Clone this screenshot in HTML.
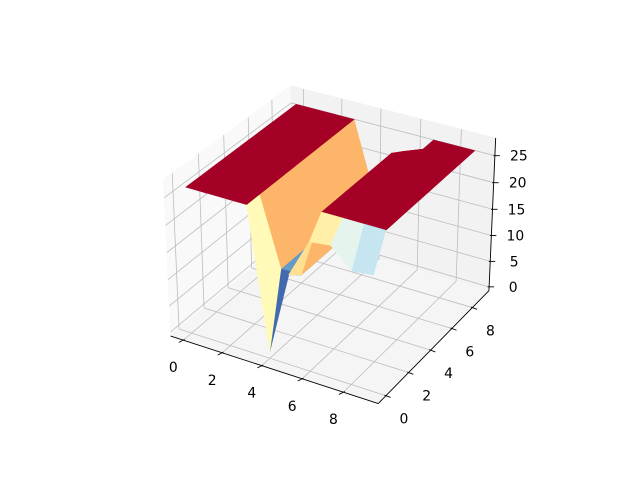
<!DOCTYPE html>
<html>
<head>
<meta charset="utf-8">
<style>
  html, body { margin: 0; padding: 0; background: #ffffff; }
  #chart { position: absolute; left: 0; top: 0; width: 640px; height: 480px; }
  text { font-family: "DejaVu Sans", "Liberation Sans", sans-serif; font-size: 13.9px; fill: #000; }
</style>
</head>
<body>
<svg id="chart" width="640" height="480" viewBox="0 0 640 480" xmlns="http://www.w3.org/2000/svg">
  <rect x="0" y="0" width="640" height="480" fill="#ffffff"/>
  <g id="panes"></g>
  <g id="grid"></g>
  <g id="axes"></g>
  <g id="surface"></g>
  <g id="labels"></g>
</svg>
<script>
// ---- data ----
const xVals = [0, 1, 2, 3, 4, 5, 6, 7, 8, 9];
const yVals = [0, 1, 2, 3, 4, 5, 6, 7, 8, 9];
// Z rows indexed by y, columns by x
const zRow0 = [26.4, 26.4, 26.4, 26.4, 0.5, 16, 23, 23.5, 20, 20.5];
const zRow1 = [26.4, 26.4, 26.4, 26.4, 14, 14, 26.4, 26.4, 26.4, 26.4];
const zRow2 = [26.4, 26.4, 26.4, 26.4, 14, 14, 26.4, 26.4, 26.4, 26.4];
const zRow3 = [26.4, 26.4, 26.4, 26.4, 14, 14, 26.4, 26.4, 26.4, 26.4];
const zRow4 = [26.4, 26.4, 26.4, 26.4, 14, 14, 26.4, 26.4, 26.4, 26.4];
const zRow5 = [26.4, 26.4, 26.4, 26.4, 14, 14, 26.4, 26.4, 26.4, 26.4];
const zRow6 = [26.4, 26.4, 26.4, 26.4, 14, 14, 26.4, 26.4, 26.4, 26.4];
const zRow7 = [26.4, 26.4, 26.4, 26.4, 14, 14, 26.4, 26.4, 26.4, 26.4];
const zRow8 = [26.4, 26.4, 26.4, 26.4, 14, 14, 25, 26.4, 26.4, 26.4];
const zRow9 = [26.4, 26.4, 26.4, 26.4, 14, 15, 22, 26.4, 26.4, 26.4];
const zRows = [zRow0, zRow1, zRow2, zRow3, zRow4, zRow5, zRow6, zRow7, zRow8, zRow9];
// colour values for the front row (facecolor data); other rows use Z
const cRow0 = [26.4, 26.4, 26.4, 26.4, 6, 18, 18.4, 3.2, 12, 0];
const xTicks = [0, 2, 4, 6, 8];
const yTicks = [0, 2, 4, 6, 8];
const zTicks = [0, 5, 10, 15, 20, 25];
const xLim = [-0.66, 9.66];
const yLim = [-0.66, 9.66];
const zLim = [-0.76, 28.25];
const colorMin = 12;
const colorMax = 24;

// ---- projection (matplotlib-like, elev 30, azim -60) ----
const NS = 'http://www.w3.org/2000/svg';
const k = 1.8294640721620434 / Math.sqrt(41);
const A = [4 * k, 4 * k, 3 * k];
const U = [0.8660254, 0.5, 0];
const V = [-0.25, 0.4330127, 0.8660254];
const W = [0.4330127, -0.75, 0.5];
const SC = 2082, CX = 332.6, CY = 237.3;
function proj(x, y, z) {
  const d = [
    (x - xLim[0]) / (xLim[1] - xLim[0]) * A[0] - A[0] / 2,
    (y - yLim[0]) / (yLim[1] - yLim[0]) * A[1] - A[1] / 2,
    (z - zLim[0]) / (zLim[1] - zLim[0]) * A[2] - A[2] / 2
  ];
  const ud = U[0]*d[0] + U[1]*d[1] + U[2]*d[2];
  const vd = V[0]*d[0] + V[1]*d[1] + V[2]*d[2];
  const wd = W[0]*d[0] + W[1]*d[1] + W[2]*d[2];
  const den = 10 - wd;
  return [CX + SC * ud / den, CY - SC * vd / den, wd];
}
function pts(list) { return list.map(p => p[0].toFixed(2) + ',' + p[1].toFixed(2)).join(' '); }

// colormap RdYlBu_r
const cmapStops = ['#313695','#4575b4','#74add1','#abd9e9','#e0f3f8','#ffffbf','#fee090','#fdae61','#f46d43','#d73027','#a50026'];
function hex2rgb(h) { return [parseInt(h.substr(1,2),16), parseInt(h.substr(3,2),16), parseInt(h.substr(5,2),16)]; }
function cmap(t) {
  t = Math.max(0, Math.min(1, t));
  const f = t * 10, i = Math.min(9, Math.floor(f)), r = f - i;
  const a = hex2rgb(cmapStops[i]), b = hex2rgb(cmapStops[i + 1]);
  return 'rgb(' + [0,1,2].map(j => Math.round(a[j] + (b[j] - a[j]) * r)).join(',') + ')';
}

const panes = document.getElementById('panes');
const grid = document.getElementById('grid');
const axes = document.getElementById('axes');
const surf = document.getElementById('surface');
const labels = document.getElementById('labels');
const [x0, x1] = xLim, [y0, y1] = yLim, [z0, z1] = zLim;

function poly(parent, corners, fill, name) {
  const p = document.createElementNS(NS, 'polygon');
  p.setAttribute('points', pts(corners));
  p.setAttribute('fill', fill);
  p.setAttribute('stroke', fill);
  p.setAttribute('stroke-width', '0.6');
  
  
  parent.appendChild(p);
}
function line(parent, a, b, color, w, name) {
  const l = document.createElementNS(NS, 'line');
  l.setAttribute('x1', a[0].toFixed(2)); l.setAttribute('y1', a[1].toFixed(2));
  l.setAttribute('x2', b[0].toFixed(2)); l.setAttribute('y2', b[1].toFixed(2));
  l.setAttribute('stroke', color); l.setAttribute('stroke-width', w);
  
  
  parent.appendChild(l);
}
function label(txt, p, dx, dy, name) {
  const t = document.createElementNS(NS, 'text');
  t.setAttribute('x', (p[0] + dx).toFixed(2));
  t.setAttribute('y', (p[1] + dy).toFixed(2));
  t.setAttribute('text-anchor', 'middle');
  t.setAttribute('dominant-baseline', 'central');
  t.textContent = txt;
  
  
  labels.appendChild(t);
}

// panes
poly(panes, [proj(x0,y0,z0), proj(x0,y1,z0), proj(x0,y1,z1), proj(x0,y0,z1)], '#f9f9f9', 'left-pane');
poly(panes, [proj(x0,y1,z0), proj(x1,y1,z0), proj(x1,y1,z1), proj(x0,y1,z1)], '#f2f2f2', 'back-pane');
poly(panes, [proj(x0,y0,z0), proj(x1,y0,z0), proj(x1,y1,z0), proj(x0,y1,z0)], '#f5f5f5', 'floor-pane');

// grid lines
const GC = '#bdbdbd';
xTicks.forEach(x => {
  line(grid, proj(x,y0,z0), proj(x,y1,z0), GC, 0.8, 'x-gridline-floor');
  line(grid, proj(x,y1,z0), proj(x,y1,z1), GC, 0.8, 'x-gridline-back');
});
yTicks.forEach(y => {
  line(grid, proj(x0,y,z0), proj(x1,y,z0), GC, 0.8, 'y-gridline-floor');
  line(grid, proj(x0,y,z0), proj(x0,y,z1), GC, 0.8, 'y-gridline-left');
});
zTicks.forEach(z => {
  line(grid, proj(x0,y0,z), proj(x0,y1,z), GC, 0.8, 'z-gridline-left');
  line(grid, proj(x0,y1,z), proj(x1,y1,z), GC, 0.8, 'z-gridline-back');
});

// axis lines
line(axes, proj(x0,y0,z0), proj(x1,y0,z0), '#000', 0.9, 'x-axis-line');
line(axes, proj(x1,y0,z0), proj(x1,y1,z0), '#000', 0.9, 'y-axis-line');
line(axes, proj(x1,y1,z0), proj(x1,y1,z1), '#000', 0.9, 'z-axis-line');

// ticks + labels
function tick(p, dx, dy, name) {
  const n = Math.hypot(dx, dy);
  const a = [p[0] - dx / n * 1.5, p[1] - dy / n * 1.5];
  const b = [p[0] + dx / n * 5, p[1] + dy / n * 5];
  line(axes, a, b, '#000', 0.9, name);
}
xTicks.forEach(x => {
  const p = proj(x, y0, z0);
  tick(p, -8, 4, 'x-tick');
  label(String(x), p, -10, 28, 'x-tick-label');
});
yTicks.forEach(y => {
  const p = proj(x1, y, z0);
  tick(p, 8, 3, 'y-tick');
  label(String(y), p, 18, 24, 'y-tick-label');
});
zTicks.forEach(z => {
  const p = proj(x1, y1, z);
  tick(p, 8, 0, 'z-tick');
  label(String(z), p, 24, 1, 'z-tick-label');
});

// surface faces
function cval(j, i) { return j === 0 ? cRow0[i] : zRows[j][i]; }
const faces = [];
for (let j = 0; j < yVals.length - 1; j++) {
  for (let i = 0; i < xVals.length - 1; i++) {
    const c = [
      [xVals[i], yVals[j], zRows[j][i]],
      [xVals[i+1], yVals[j], zRows[j][i+1]],
      [xVals[i+1], yVals[j+1], zRows[j+1][i+1]],
      [xVals[i], yVals[j+1], zRows[j+1][i]]
    ];
    const pp = c.map(q => proj(q[0], q[1], q[2]));
    const depth = pp.reduce((s, q) => s + q[2], 0) / 4;
    const avgC = (cval(j, i) + cval(j, i+1) + cval(j+1, i+1) + cval(j+1, i)) / 4;
    faces.push({ pp, depth, avgC });
  }
}
faces.sort((a, b) => a.depth - b.depth);
faces.forEach(f => {
  const col = cmap((f.avgC - colorMin) / (colorMax - colorMin));
  poly(surf, f.pp, col, 'surface-face');
});
</script>
</body>
</html>
